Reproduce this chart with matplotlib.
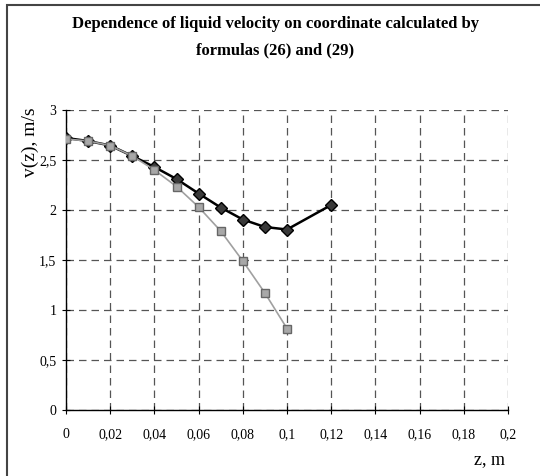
import matplotlib
matplotlib.use("Agg")
import matplotlib.pyplot as plt
import matplotlib.ticker as mticker
from matplotlib.patches import Rectangle

# --- DATA ---
z_formula_26 = [0, 0.01, 0.02, 0.03, 0.04, 0.05, 0.06, 0.07, 0.08, 0.09, 0.10, 0.12]
v_formula_26 = [2.72, 2.69, 2.645, 2.54, 2.43, 2.31, 2.165, 2.025, 1.905, 1.83, 1.805, 2.05]

z_formula_29 = [0, 0.01, 0.02, 0.03, 0.04, 0.05, 0.06, 0.07, 0.08, 0.09, 0.10]
v_formula_29 = [2.71, 2.69, 2.645, 2.54, 2.40, 2.235, 2.03, 1.79, 1.49, 1.17, 0.815]

x_ticks = [0, 0.02, 0.04, 0.06, 0.08, 0.1, 0.12, 0.14, 0.16, 0.18, 0.2]
y_ticks = [0, 0.5, 1, 1.5, 2, 2.5, 3]

TITLE = "Dependence of liquid velocity on coordinate calculated by\nformulas (26) and (29)"

plt.rcParams['font.family'] = ['Liberation Serif', 'DejaVu Serif']

fig = plt.figure(figsize=(5.4, 4.76), dpi=100)
ax = fig.add_axes([66 / 540, 1 - 410 / 476, 442 / 540, 300 / 476])

# outer frame (only left and top edges are visible in the reference)
fig.patches.append(Rectangle((7 / 540, -0.1), 1.2, 1 - 5 / 476 + 0.1,
                             transform=fig.transFigure, fill=False,
                             edgecolor='#444444', linewidth=1.5))

ax.plot(z_formula_26, v_formula_26, color='black', linewidth=1.8,
        marker='D', markersize=6, markerfacecolor='#3a3a3a',
        markeredgecolor='black', zorder=3)
ax.plot(z_formula_29, v_formula_29, color='#a0a0a0', linewidth=1.2,
        marker='s', markersize=6, markerfacecolor='#a8a8a8',
        markeredgecolor='#666666', zorder=4)

ax.set_xlim(0, 0.2)
ax.set_ylim(0, 3)
ax.set_xticks(x_ticks)
ax.set_yticks(y_ticks)
fmt = mticker.FuncFormatter(lambda v, p: f'{v:g}'.replace('.', ','))
ax.xaxis.set_major_formatter(fmt)
ax.yaxis.set_major_formatter(fmt)

ax.grid(True, color='#555555', linestyle=(0, (6, 4)), linewidth=0.9)
ax.set_axisbelow(True)
for s in ['top', 'right']:
    ax.spines[s].set_visible(False)
ax.spines['left'].set_linewidth(1.0)
ax.spines['bottom'].set_linewidth(1.0)
ax.tick_params(axis='x', direction='inout', length=6, pad=10, labelsize=10)
ax.tick_params(axis='y', direction='inout', length=6, pad=4, labelsize=10)

fig.text(30 / 540, 1 - 142 / 476, 'v(z), m/s', fontsize=14, rotation=90,
         ha='center', va='center')
fig.text(490 / 540, 1 - 460 / 476, 'z, m', fontsize=13, ha='center', va='center')
fig.text(0.51, 1 - 37 / 476, TITLE, fontsize=12, fontweight='bold',
         ha='center', va='center', linespacing=1.9)

fig.savefig('out.png', dpi=100)
